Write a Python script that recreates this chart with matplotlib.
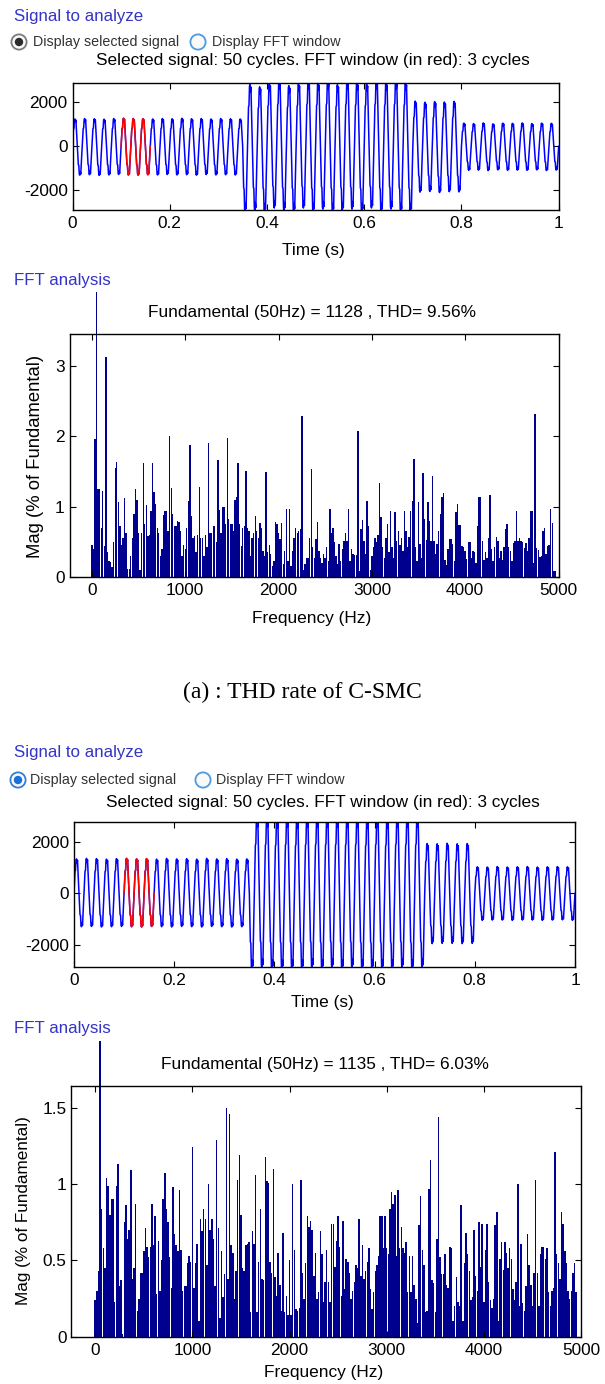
from __future__ import annotations

import matplotlib

matplotlib.use("Agg")
import matplotlib.pyplot as plt
import numpy as np
from matplotlib.patches import Circle
from matplotlib.transforms import Bbox, TransformedBbox

FIG_W, FIG_H = 605, 1384

TIME_TICKS = [0, 0.2, 0.4, 0.6, 0.8, 1]
TIME_TICK_LABELS = ["0", "0.2", "0.4", "0.6", "0.8", "1"]
SIG_TICKS = [-2000, 0, 2000]
FREQ_TICKS = [0, 1000, 2000, 3000, 4000, 5000]

# one half cycle of the current, normalised, 1 ms per sample (50 Hz)
HALF_CYCLE_SHAPE = [0.0, 0.32, 0.64, 0.66, 0.97, 1.0, 0.88, 0.96, 0.6, 0.3]

# peak of every half cycle (even = positive, odd = negative)
SIG1_HALF_PEAKS = [
	1240, 1310, 1260, 1290, 1250, 1320, 1230, 1300, 1260, 1280,
	1270, 1300, 1260, 1310, 1250, 1290, 1240, 1300, 1260, 1280,
	1250, 1300, 1270, 1290, 1250, 1310, 1260, 1280, 1240, 1300,
	1260, 1290, 1250, 1300, 1240, 2950, 2800, 2900, 2700, 2950,
	2850, 2800, 2950, 2900, 2750, 2950, 2850, 2800, 2950, 2950,
	2900, 2850, 2950, 2950, 2800, 2900, 2950, 2850, 2900, 2950,
	2850, 2800, 2950, 2950, 2900, 2850, 2950, 2950, 2900, 2950,
	2050, 2080, 2000, 2050, 2030, 2100, 2010, 2060, 2040, 2070,
	1050, 1090, 1030, 1080, 1060, 1100, 1020, 1070, 1050, 1090,
	1040, 1080, 1060, 1090, 1030, 1070, 1050, 1100, 1040, 1080,
]
SIG2_HALF_PEAKS = [
	1350, 1300, 1370, 1290, 1360, 1310, 1340, 1300, 1360, 1290,
	1370, 1300, 1350, 1310, 1360, 1290, 1340, 1300, 1370, 1310,
	1350, 1290, 1360, 1300, 1340, 1310, 1370, 1290, 1350, 1300,
	1360, 1310, 1340, 1300, 1350, 2950, 2950, 2900, 2950, 2950,
	2900, 2950, 2950, 2950, 2900, 2950, 2950, 2900, 2950, 2950,
	2950, 2900, 2950, 2950, 2950, 2900, 2950, 2950, 2900, 2950,
	2950, 2950, 2900, 2950, 2950, 2900, 2950, 2950, 2950, 2900,
	1950, 1960, 1940, 1950, 1960, 1950, 1940, 1960, 1950, 1950,
	1040, 1050, 1030, 1040, 1050, 1040, 1030, 1050, 1040, 1040,
	1050, 1040, 1030, 1050, 1040, 1040, 1050, 1030, 1040, 1050,
]
FFT_WINDOW_HALVES = (10, 16)  # red: 0.1 s to 0.16 s, 3 cycles

FFT_BIN_HZ = 50 / 3
FUND_BIN = 3
FFT1_MAG = [
	0.45, 0.40, 1.96, 100, 1.25, 1.25, 0.70, 1.22, 0.44, 3.12,
	0.35, 0.23, 0.22, 0.14, 0.50, 1.55, 1.63, 1.06, 0.73, 0.45,
	0.55, 1.12, 0.63, 0.12, 0.12, 0.30, 0.55, 0.90, 1.25, 1.09,
	0.62, 0.10, 0.62, 1.62, 0.75, 1.02, 0.58, 0.60, 0.94, 1.62,
	1.20, 1.04, 0.70, 0.62, 0.30, 0.40, 0.88, 0.93, 0.94, 0.66,
	2.00, 1.27, 0.90, 0.72, 0.72, 0.80, 0.78, 0.65, 0.30, 0.45,
	0.40, 0.70, 1.08, 1.88, 0.86, 0.55, 0.58, 0.35, 0.60, 1.28,
	0.55, 0.55, 0.30, 0.60, 0.42, 1.90, 0.63, 0.63, 0.73, 0.73,
	0.50, 1.66, 0.95, 0.63, 1.00, 1.00, 0.75, 1.98, 0.82, 0.75,
	0.75, 0.65, 1.10, 1.13, 1.62, 0.75, 0.44, 0.70, 0.72, 1.50,
	0.70, 0.65, 0.30, 0.56, 0.63, 0.86, 0.65, 0.56, 0.76, 0.70,
	0.37, 0.30, 1.49, 0.35, 0.45, 0.33, 0.15, 0.23, 0.78, 0.75,
	0.63, 0.54, 0.77, 0.18, 0.37, 0.97, 0.23, 0.97, 0.15, 0.37,
	0.56, 0.69, 0.63, 0.65, 0.68, 2.28, 0.10, 0.18, 0.27, 0.27,
	0.55, 1.54, 0.42, 0.27, 0.54, 0.78, 0.37, 0.27, 0.20, 0.33,
	0.27, 0.42, 0.23, 0.97, 0.63, 0.70, 0.49, 0.30, 0.18, 0.47,
	0.23, 0.40, 0.51, 0.63, 0.51, 0.96, 0.23, 0.40, 0.33, 0.31,
	0.31, 2.07, 0.09, 0.68, 0.81, 0.51, 0.33, 1.08, 0.73, 0.10,
	0.30, 0.42, 0.56, 0.50, 0.60, 1.33, 0.85, 0.42, 0.27, 0.56,
	0.75, 0.35, 0.94, 0.42, 0.27, 0.92, 0.51, 0.65, 0.45, 0.55,
	0.37, 0.93, 0.65, 0.42, 0.57, 0.93, 1.08, 1.68, 0.42, 0.23,
	1.06, 0.47, 0.27, 1.48, 0.82, 0.52, 1.07, 0.80, 0.51, 1.43,
	0.51, 0.33, 0.47, 0.65, 0.90, 1.13, 1.19, 0.24, 0.17, 0.40,
	0.54, 0.54, 0.47, 0.23, 0.92, 1.03, 0.74, 0.74, 0.44, 0.42,
	0.37, 0.25, 0.50, 0.50, 0.27, 0.37, 0.35, 0.20, 0.73, 1.13,
	1.13, 0.51, 0.24, 0.35, 0.27, 0.56, 1.16, 0.40, 0.23, 0.42,
	0.57, 0.51, 0.27, 0.37, 0.24, 0.42, 0.68, 0.75, 0.42, 0.37,
	0.23, 0.48, 0.51, 0.94, 0.51, 0.55, 0.51, 0.50, 0.41, 0.48,
	0.37, 0.56, 0.94, 0.94, 0.20, 2.31, 0.41, 0.38, 0.29, 0.30,
	0.65, 0.70, 0.33, 0.44, 0.46, 0.97, 0.76, 0.08, 0.08,
]
FFT2_MAG = [
	0.24, 0.30, 0.43, 100, 0.84, 0.58, 0.45, 1.04, 0.99, 0.80,
	0.90, 0.90, 0.23, 0.99, 1.13, 0.33, 0.37, 0.02, 0.75, 0.86,
	0.64, 0.70, 1.09, 0.38, 0.45, 0.87, 0.17, 0.25, 0.42, 0.42,
	0.56, 0.71, 0.59, 0.52, 0.59, 0.87, 0.60, 0.79, 0.28, 0.63,
	0.30, 0.50, 0.90, 1.07, 0.84, 0.75, 0.52, 0.32, 0.98, 0.67,
	0.60, 0.56, 0.96, 0.57, 0.30, 0.33, 0.33, 0.48, 0.53, 0.49,
	1.24, 0.32, 0.48, 0.61, 0.10, 0.77, 0.69, 0.84, 0.77, 0.47,
	1.00, 0.70, 0.77, 0.64, 0.33, 1.29, 0.71, 0.12, 0.56, 0.26,
	0.41, 1.50, 0.38, 1.46, 0.60, 0.55, 0.25, 0.43, 1.03, 1.19,
	0.80, 0.45, 0.43, 0.60, 0.61, 0.62,
	0.16, 0.69, 0.61, 1.06, 0.16, 0.49, 0.84, 0.38, 0.37, 1.18,
	1.02, 1.01, 0.49, 0.42, 1.10, 0.39, 0.27, 0.55, 0.34, 0.17,
	0.68, 0.16, 0.27, 0.14, 0.50, 0.14, 1.00, 0.57, 0.18, 0.17,
	0.19, 1.03, 0.42, 0.25, 0.48, 0.79, 0.72, 0.76, 0.70, 0.40,
	0.55, 0.25, 0.29, 0.69, 0.54, 0.23, 0.36, 0.57, 0.36, 0.23,
	0.74, 0.74, 0.46, 0.63, 0.79, 0.59, 0.27, 0.76, 0.31, 0.51,
	0.49, 0.42, 0.25, 0.30, 0.36, 0.47, 0.45, 0.77, 0.40, 0.60,
	0.38, 0.43, 0.49, 0.58, 0.31, 0.18, 0.29, 0.43, 0.47, 0.53,
	0.79, 0.79, 0.58, 0.79, 0.58, 0.54, 0.84, 0.95, 0.87, 0.93,
	0.53, 0.96, 0.58, 0.72, 0.58, 0.55, 0.62, 0.29, 0.53, 0.29,
	0.53, 0.34,
	0.25, 0.09, 0.73, 0.92, 0.57, 0.47, 0.16, 0.17, 0.97, 1.16,
	0.37, 0.35, 0.16, 0.64, 1.44, 0.52, 0.41, 0.41, 0.54, 0.34,
	0.32, 0.59, 0.58, 0.10, 0.20, 0.39, 0.23, 0.20, 0.86, 0.10,
	0.48, 0.68, 0.54, 0.43, 0.24, 0.26, 0.70, 0.40, 0.30, 0.75,
	0.46, 0.74, 0.23, 0.57, 0.74, 0.36, 0.24, 0.19, 0.25, 0.73,
	0.82, 0.10, 0.51, 0.62, 0.44, 0.62, 0.55, 0.45, 0.58, 0.51,
	0.31, 0.24, 0.36, 1.00, 0.20, 0.61, 0.22, 0.17, 0.33, 0.67,
	0.47, 0.34, 0.20, 0.42, 1.03, 0.42, 0.20, 0.54, 0.59, 0.59,
	0.51, 0.58, 0.29, 0.20, 0.30, 0.32, 1.21, 0.54, 0.48, 0.38,
	0.82, 0.74, 0.56, 0.48, 0.30, 0.25, 0.30, 0.42, 0.48, 0.29,
]

PANELS = [
	{
		"title": "Selected signal: 50 cycles. FFT window (in red): 3 cycles",
		"fft_title": "Fundamental (50Hz) = 1128 , THD= 9.56%",
		"peaks": SIG1_HALF_PEAKS,
		"mag": FFT1_MAG,
		"sig_ylim": (-2890, 2858),
		"fft_ylim": (0, 3.45),
		"fft_yticks": [0, 1, 2, 3],
		"fft_yticklabels": ["0", "1", "2", "3"],
	},
	{
		"title": "Selected signal: 50 cycles. FFT window (in red): 3 cycles",
		"fft_title": "Fundamental (50Hz) = 1135 , THD= 6.03%",
		"peaks": SIG2_HALF_PEAKS,
		"mag": FFT2_MAG,
		"sig_ylim": (-2862, 2803),
		"fft_ylim": (0, 1.645),
		"fft_yticks": [0, 0.5, 1, 1.5],
		"fft_yticklabels": ["0", "0.5", "1", "1.5"],
	},
]

# pixel layout: boxes are (left, top, right, bottom)
LAYOUT = [
	{
		"sig_box": (72.5, 83.3, 558.7, 210.0),
		"fft_box": (69.5, 334.0, 558.5, 577.0),
		"header": (13.5, 16),
		"radio1": (19, 42),
		"radio1_text": 33,
		"radio2": (198, 42),
		"radio2_text": 212,
		"title_xy": (313, 61),
		"fft_header": (13.5, 280),
		"fft_title_xy": (311.5, 313),
		"time_label": (313.5, 251),
		"freq_label": (312, 618),
		"mag_label": (35.5, 456),
		"mag_size": 13.3,
		"xlim": (-240, 5000),
		"fund_top": 292,
		"radio_style": "grey",
	},
	{
		"sig_box": (74.0, 821.7, 575.0, 966.7),
		"fft_box": (71.4, 1085.7, 581.0, 1336.7),
		"header": (13.5, 753),
		"radio1": (18, 780),
		"radio1_text": 30,
		"radio2": (203, 780),
		"radio2_text": 216,
		"title_xy": (323, 802),
		"fft_header": (13.5, 1029),
		"fft_title_xy": (325, 1065),
		"time_label": (322, 1003),
		"freq_label": (324, 1373),
		"mag_label": (24, 1211),
		"mag_size": 12.3,
		"xlim": (-245, 5000),
		"fund_top": 1041,
		"radio_style": "blue",
	},
]

HEADER_COLOR = "#3434c6"
BAR_COLOR = "#00008f"
TEXT_SIZE = 12.4


def fig_rect(box):
	left, top, right, bottom = box
	return [left / FIG_W, 1 - bottom / FIG_H, (right - left) / FIG_W, (bottom - top) / FIG_H]


def px_to_axes(box, x, y):
	left, top, right, bottom = box
	return (x - left) / (right - left), (bottom - y) / (bottom - top)


def build_signal(half_peaks):
	shape = np.asarray(HALF_CYCLE_SHAPE, dtype=float)
	values = []
	for h, peak in enumerate(half_peaks):
		sign = 1.0 if h % 2 == 0 else -1.0
		values.extend(sign * peak * shape)
	values.append(0.0)
	values = np.asarray(values)
	t = np.arange(len(values)) * (0.01 / len(shape))
	return t, values


def style_axes(ax):
	for spine in ax.spines.values():
		spine.set_linewidth(1.0)
		spine.set_color("black")
	ax.tick_params(
		direction="in", length=4, width=0.8, top=True, right=True,
		labelsize=TEXT_SIZE, colors="black",
	)
	ax.tick_params(axis="x", pad=4.5)
	ax.tick_params(axis="y", pad=3.5)


def draw_radio(ov, xy, selected, style):
	x, y = xy
	if style == "grey":
		ring = "#7c7c7c" if selected else "#4c9be0"
		dot = "#2b2b2b"
	else:
		ring = "#2f7fd6" if selected else "#4c9be0"
		dot = "#1a6fd8"
	ov.add_patch(Circle((x, y), 7.6, facecolor="#fafafa", edgecolor=ring, linewidth=1.3))
	if selected:
		ov.add_patch(Circle((x, y), 4.2, facecolor=dot, edgecolor="none"))


def draw_panel(fig, ov, panel, lay):
	# header texts and radio buttons
	ov.text(*lay["header"], "Signal to analyze", color=HEADER_COLOR, fontsize=12.2, va="center", ha="left")
	draw_radio(ov, lay["radio1"], True, lay["radio_style"])
	draw_radio(ov, lay["radio2"], False, lay["radio_style"])
	ov.text(lay["radio1_text"], lay["radio1"][1], "Display selected signal", color="#333333", fontsize=10.3, va="center", ha="left")
	ov.text(lay["radio2_text"], lay["radio2"][1], "Display FFT window", color="#333333", fontsize=10.3, va="center", ha="left")
	ov.text(*lay["title_xy"], panel["title"], fontsize=TEXT_SIZE, va="center", ha="center")

	# time signal
	box = lay["sig_box"]
	ax = fig.add_axes(fig_rect(box))
	t, values = build_signal(panel["peaks"])
	ax.plot(t, values, color="#0000ff", linewidth=1.1)
	n = len(HALF_CYCLE_SHAPE)
	start, stop = FFT_WINDOW_HALVES
	ax.plot(t[start * n:stop * n + 1], values[start * n:stop * n + 1], color="#ff0000", linewidth=1.1)
	ax.set_xlim(0, 1)
	ax.set_ylim(*panel["sig_ylim"])
	ax.set_xticks(TIME_TICKS)
	ax.set_xticklabels(TIME_TICK_LABELS)
	ax.set_yticks(SIG_TICKS)
	ax.set_yticklabels([str(v) for v in SIG_TICKS])
	style_axes(ax)
	ax.set_xlabel("Time (s)", fontsize=TEXT_SIZE, va="center", ha="center")
	ax.xaxis.set_label_coords(*px_to_axes(box, *lay["time_label"]))

	# FFT spectrum
	ov.text(*lay["fft_header"], "FFT analysis", color=HEADER_COLOR, fontsize=12.2, va="center", ha="left")
	ov.text(*lay["fft_title_xy"], panel["fft_title"], fontsize=TEXT_SIZE, va="center", ha="center")
	box = lay["fft_box"]
	ax = fig.add_axes(fig_rect(box))
	mag = np.asarray(panel["mag"], dtype=float)
	freqs = np.arange(len(mag)) * FFT_BIN_HZ
	bars = ax.bar(freqs, mag, width=15.0, color=BAR_COLOR, edgecolor="none", linewidth=0)
	# the fundamental runs past the top of the axes, up to the panel edge
	ext = (box[3] - lay["fund_top"]) / (box[3] - box[1])
	bars[FUND_BIN].set_clip_box(TransformedBbox(Bbox([[0, 0], [1, ext]]), ax.transAxes))
	ax.set_xlim(*lay["xlim"])
	ax.set_ylim(*panel["fft_ylim"])
	ax.set_xticks(FREQ_TICKS)
	ax.set_xticklabels([str(v) for v in FREQ_TICKS])
	ax.set_yticks(panel["fft_yticks"])
	ax.set_yticklabels(panel["fft_yticklabels"])
	style_axes(ax)
	ax.set_xlabel("Frequency (Hz)", fontsize=TEXT_SIZE, va="center", ha="center")
	ax.xaxis.set_label_coords(*px_to_axes(box, *lay["freq_label"]))
	ax.set_ylabel("Mag (% of Fundamental)", fontsize=lay["mag_size"], va="center", ha="center")
	ax.yaxis.set_label_coords(*px_to_axes(box, *lay["mag_label"]))


def main() -> None:
	plt.rcParams["font.family"] = ["Liberation Sans", "DejaVu Sans"]
	fig = plt.figure(figsize=(FIG_W / 100, FIG_H / 100), dpi=100)
	fig.patch.set_facecolor("white")

	ov = fig.add_axes([0, 0, 1, 1])
	ov.set_xlim(0, FIG_W)
	ov.set_ylim(FIG_H, 0)
	ov.axis("off")
	ov.patch.set_visible(False)

	for panel, lay in zip(PANELS, LAYOUT):
		draw_panel(fig, ov, panel, lay)

	ov.text(302, 692, "(a) : THD rate of C-SMC", family=["Liberation Serif", "DejaVu Serif"],
		fontsize=17, va="center", ha="center")

	fig.savefig("out.png", dpi=100)
	plt.close(fig)


if __name__ == "__main__":
	main()
